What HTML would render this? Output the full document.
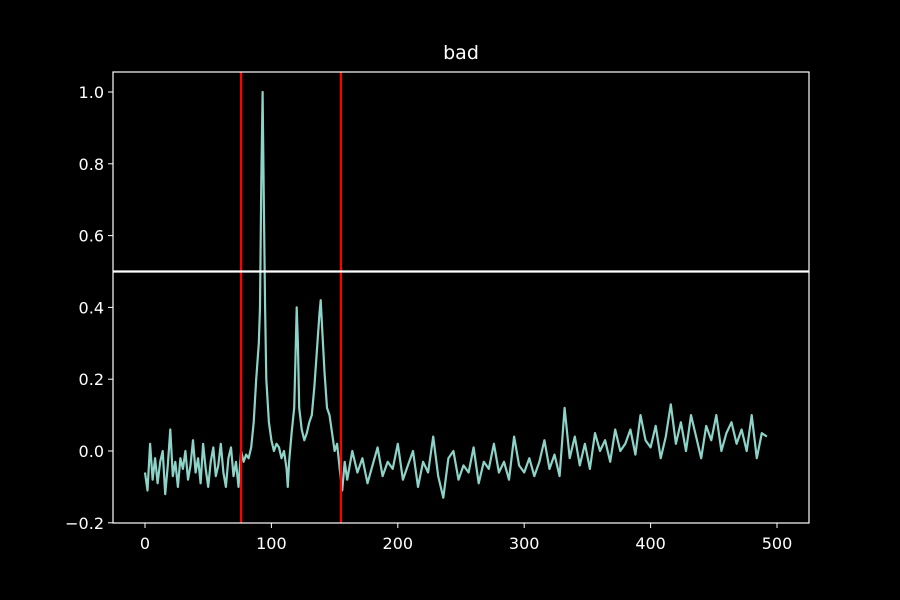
<!DOCTYPE html>
<html><head><meta charset="utf-8"><style>
html,body{margin:0;padding:0;background:#000;}
svg{display:block;font-family:"DejaVu Sans","Liberation Sans",sans-serif;}
</style></head><body>
<svg id="chart" width="900" height="600" viewBox="0 0 900 600">
<rect width="900" height="600" fill="#000"/>
<text x="461" y="59" fill="#fff" font-size="19" text-anchor="middle">bad</text>
<g id="plot"></g>
</svg>
<script>
const xs = [0,2,4,6,8,10,12,14,16,18,20,22,24,26,28,30,32,34,36,38,40,42,44,46,48,50,52,54,56,58,60,62,64,66,68,70,72,74,76,78,80,82,84,86,88,90,91,92,93,94,95,96,98,100,102,104,106,108,110,112,113,114,116,118,119,120,121,122,124,126,128,130,132,134,136,138,139,140,142,144,146,148,150,152,154,156,158,160,164,168,172,176,180,184,188,192,196,200,204,208,212,216,220,224,228,232,236,240,244,248,252,256,260,264,268,272,276,280,284,288,292,296,300,304,308,312,316,320,324,328,332,336,340,344,348,352,356,360,364,368,372,376,380,384,388,392,396,400,404,408,412,416,420,424,428,432,436,440,444,448,452,456,460,464,468,472,476,480,484,488,492,496,498];
const ys = [-0.06,-0.11,0.02,-0.08,-0.02,-0.09,-0.03,0.0,-0.12,-0.04,0.06,-0.07,-0.03,-0.1,-0.02,-0.05,0.0,-0.08,-0.04,0.03,-0.06,-0.02,-0.09,0.02,-0.05,-0.1,-0.03,0.01,-0.07,-0.04,0.02,-0.06,-0.1,-0.02,0.01,-0.07,-0.03,-0.1,0.0,-0.03,-0.01,-0.02,0.01,0.08,0.2,0.3,0.4,0.75,1.0,0.7,0.4,0.2,0.08,0.03,0.0,0.02,0.01,-0.02,0.0,-0.05,-0.1,-0.03,0.05,0.12,0.25,0.4,0.3,0.12,0.06,0.03,0.05,0.08,0.1,0.18,0.28,0.38,0.42,0.35,0.22,0.12,0.1,0.05,0.0,0.02,-0.05,-0.11,-0.03,-0.08,0.0,-0.06,-0.02,-0.09,-0.04,0.01,-0.07,-0.03,-0.05,0.02,-0.08,-0.04,0.0,-0.1,-0.03,-0.06,0.04,-0.07,-0.13,-0.02,0.0,-0.08,-0.04,-0.06,0.01,-0.09,-0.03,-0.05,0.02,-0.06,-0.03,-0.08,0.04,-0.04,-0.06,-0.02,-0.07,-0.03,0.03,-0.05,-0.01,-0.07,0.12,-0.02,0.04,-0.04,0.02,-0.05,0.05,0.0,0.03,-0.03,0.06,0.0,0.02,0.06,-0.01,0.1,0.03,0.01,0.07,-0.02,0.04,0.13,0.02,0.08,0.0,0.1,0.04,-0.02,0.07,0.03,0.1,0.0,0.05,0.08,0.02,0.06,0.0,0.1,-0.02,0.05,0.04];
const yTicks = [-0.2,0.0,0.2,0.4,0.6,0.8,1.0];
const xTicks = [0,100,200,300,400,500];
const vLines = [76,155];
const hLine = [0.5];

const L=113,R=809,T=72,B=523;
const X = v => 145 + v*1.264;
const Y = v => 451 - v*359;
const g = document.getElementById('plot');
const NS='http://www.w3.org/2000/svg';
function mk(tag,attrs){const e=document.createElementNS(NS,tag);for(const k in attrs)e.setAttribute(k,attrs[k]);g.appendChild(e);return e;}

xTicks.forEach(t=>{
  const l=mk('line',{x1:X(t),x2:X(t),y1:B,y2:B+5,stroke:'#fff','stroke-width':1});
  
  
  const tx=mk('text',{x:X(t),y:B+26,fill:'#fff','font-size':16,'text-anchor':'middle'});
  tx.textContent=String(t);
  
  
});
yTicks.forEach(t=>{
  const l=mk('line',{x1:L-5,x2:L,y1:Y(t),y2:Y(t),stroke:'#fff','stroke-width':1});
  
  
  const tx=mk('text',{x:L-9,y:Y(t)+6,fill:'#fff','font-size':16,'text-anchor':'end'});
  tx.textContent=(t<0?'\u22120.'+String(Math.abs(t).toFixed(1)).split('.')[1]:t.toFixed(1));
  
  
});
const pts=xs.map((x,i)=>X(x).toFixed(1)+','+Y(ys[i]).toFixed(1)).join(' ');
const line=mk('polyline',{points:pts,fill:'none',stroke:'#8dd3c7','stroke-width':2.2,'stroke-linejoin':'round'});


vLines.forEach(v=>{
  const l=mk('line',{x1:X(v),x2:X(v),y1:T,y2:B,stroke:'#ff0000','stroke-width':2.2});
  
  
});
hLine.forEach(v=>{
  const l=mk('line',{x1:L,x2:R,y1:Y(v),y2:Y(v),stroke:'#fff','stroke-width':2.2});
  
  
});
const fr=mk('rect',{x:L,y:T,width:R-L,height:B-T,fill:'none',stroke:'#fff','stroke-width':1.2});


</script>
</body></html>
